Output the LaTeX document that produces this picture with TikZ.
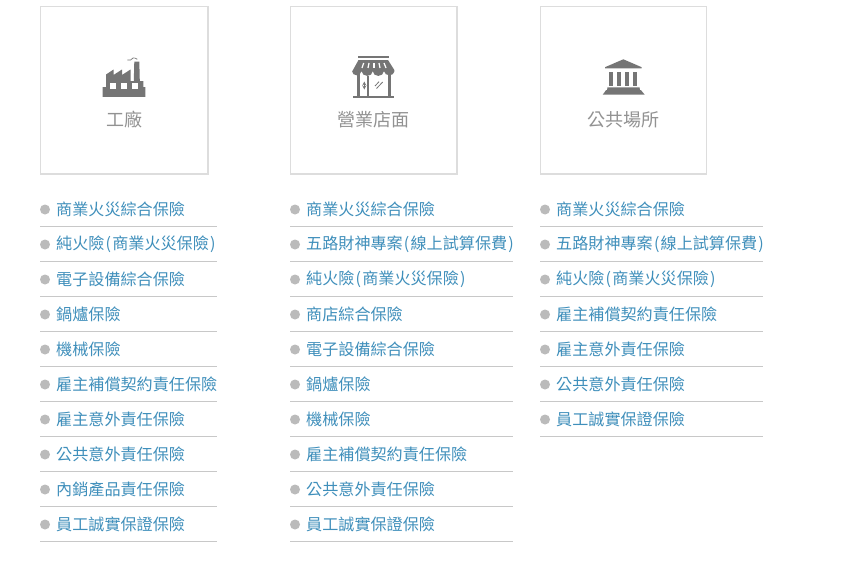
\documentclass[tikz,border=0pt]{standalone}
\usepackage{fontspec}
\setmainfont{Noto Sans CJK TC}
\definecolor{linkc}{HTML}{3F8FBB}
\definecolor{bulc}{HTML}{BBBBBB}
\definecolor{rulec}{HTML}{C8C8C8}
\definecolor{framec}{HTML}{DDDDDD}
\definecolor{iconc}{HTML}{757575}
\definecolor{capc}{HTML}{929292}
\newcommand{\opn}{\kern1.2pt(\kern1.2pt}
\newcommand{\cls}{\kern1.2pt)\kern1.2pt}
\tikzset{
  card/.style={draw=framec,line width=1.2pt,fill=white,inner sep=0pt,anchor=north west},
  cardcap/.style={text=capc,font=\fontsize{18}{18}\selectfont,inner sep=0pt,anchor=center},
  item/.style={text=linkc,font=\fontsize{16.1}{16.1}\selectfont,inner sep=0pt,anchor=west},
  bullet/.style={circle,fill=bulc,inner sep=0pt,minimum size=10pt},
  sep/.style={draw=rulec,line width=0.9pt},
  ico/.style={fill=iconc,draw=none},
  icow/.style={fill=white,draw=none},
}
\newcommand{\listcol}[4]{% prefix, x, rule right x, items
  \foreach \t [count=\i] in {#4} {
    \pgfmathsetmacro{\yy}{208.5+35*(\i-1)}
    \node[bullet] (#1b\i) at (#2+5,\yy+1) {};
    \node[item] (#1t\i) at (#2+16,\yy+0.6) {\t};
    \coordinate (#1l\i) at (#2,\yy+18);
    \coordinate (#1r\i) at (#3,\yy+18);
    \draw[sep] (#1l\i) -- (#1r\i);
  }
}
\begin{document}
\begin{tikzpicture}[x=1pt,y=-1pt]
\useasboundingbox (0,0) rectangle (866,570);
\fill[white] (0,0) rectangle (866,570);

% cards
\node[card,minimum width=167.6pt,minimum height=167.6pt] (c1) at (39.7,5.7) {};
\node[card,minimum width=166.6pt,minimum height=167.6pt] (c2) at (289.7,5.7) {};
\node[card,minimum width=166.6pt,minimum height=167.6pt] (c3) at (539.6,5.7) {};
\node[cardcap] (cap1) at (124.5,119.5) {工廠};
\node[cardcap] (cap2) at (373.5,119.5) {營業店面};
\node[cardcap] (cap3) at (623.5,119.5) {公共場所};

% factory icon
\fill[ico] (102.7,87) -- (106,87) -- (106,74.5) -- (113.5,69.5) -- (113.5,75) -- (122,69.5) -- (122,75) -- (130.5,69.5) -- (130.5,81) -- (133.8,81) -- (134.3,61.5) -- (139.3,61.5) -- (139.8,81) -- (143.3,81) -- (143.3,87) -- (145.3,87) -- (145.3,96.9) -- (102.7,96.9) -- cycle;
\fill[icow] (110,82.7) rectangle (116.2,88.8);
\fill[icow] (120.8,82.7) rectangle (127,88.8);
\fill[icow] (132,82.7) rectangle (138.3,88.8);
\draw[iconc,line width=0.7pt] (127.3,60) .. controls (130,61.5) and (131,59.5) .. (133,58) .. controls (134.5,57.5) and (136,58.5) .. (137.3,59.3);

% shop icon
\fill[ico] (358.3,55.8) rectangle (388.8,58.4);
\fill[ico] (358.5,60) -- (388,60) -- (394.3,70) -- (394.3,71.5)
  arc[start angle=0,end angle=180,x radius=5,y radius=3.8] -- ++(-0.6,0)
  arc[start angle=0,end angle=180,x radius=5.4,y radius=4.4] -- ++(-0.3,0)
  arc[start angle=0,end angle=180,x radius=5.4,y radius=4.4] -- ++(-0.6,0)
  arc[start angle=0,end angle=180,x radius=4.5,y radius=3.8] -- (353,70) -- cycle;
\foreach \a/\b in {363.7/362,369/368,374/374,379/380,384/386} {
  \draw[white,line width=1.2pt] (\a,63) -- (\b,68);
}
\fill[ico] (356.7,74) rectangle (360.2,96);
\fill[ico] (387.6,74) rectangle (391.3,96);
\fill[ico] (367.3,76) rectangle (368.9,96);
\fill[ico] (353,95.6) rectangle (394,98.2);
\draw[iconc,line width=0.8pt,<->,>=stealth] (364.3,81.5) -- (364.3,89.5);
\draw[iconc,line width=0.8pt] (375,86) -- (379,81.7) (376.5,88.5) -- (382.7,82);

% bank icon
\fill[ico] (623.3,59.3) -- (641.7,67.2) -- (641.7,68.4) -- (605,68.4) -- (605,67.2) -- cycle;
\foreach \a in {609,617,625,633} { \fill[ico] (\a,71.7) rectangle (\a+3.8,86); }
\fill[ico] (607.5,87.3) -- (639.5,87.3) -- (640,90.2) -- (641,90.2) -- (644.7,94.7) -- (602.7,94.7) -- (606,90.2) -- (607,90.2) -- cycle;

% lists
\listcol{a}{40}{217}{商業火災綜合保險,純火險\opn 商業火災保險\cls,電子設備綜合保險,鍋爐保險,機械保險,雇主補償契約責任保險,雇主意外責任保險,公共意外責任保險,內銷產品責任保險,員工誠實保證保險}
\listcol{b}{290}{513}{商業火災綜合保險,五路財神專案\opn 線上試算保費\cls,純火險\opn 商業火災保險\cls,商店綜合保險,電子設備綜合保險,鍋爐保險,機械保險,雇主補償契約責任保險,公共意外責任保險,員工誠實保證保險}
\listcol{c}{540}{763}{商業火災綜合保險,五路財神專案\opn 線上試算保費\cls,純火險\opn 商業火災保險\cls,雇主補償契約責任保險,雇主意外責任保險,公共意外責任保險,員工誠實保證保險}
\end{tikzpicture}
\end{document}
